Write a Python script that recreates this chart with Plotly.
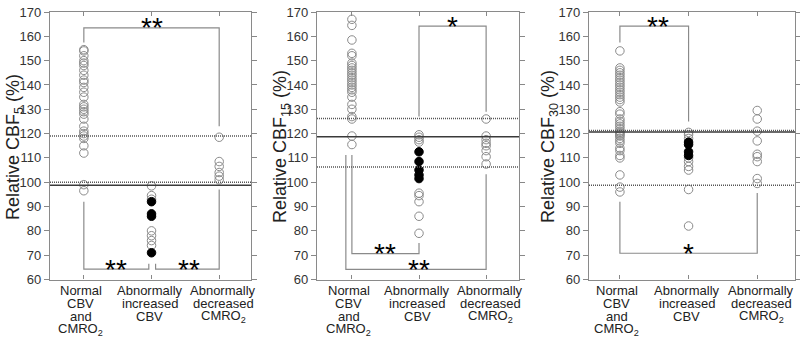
import plotly.graph_objects as go

# ---------------- data ----------------
categories = ["Normal CBV and CMRO2", "Abnormally increased CBV", "Abnormally decreased CMRO2"]
category_lines = [["Normal", "CBV", "and", "CMRO<sub>2</sub>"],
                  ["Abnormally", "increased", "CBV"],
                  ["Abnormally", "decreased", "CMRO<sub>2</sub>"]]
y_ticks = [60, 70, 80, 90, 100, 110, 120, 130, 140, 150, 160, 170]
panel_titles = ["Relative CBF<sub>5</sub> (%)", "Relative CBF<sub>15</sub> (%)", "Relative CBF<sub>30</sub> (%)"]

# CBF5
cbf5_normal = [154.5, 154, 152, 150, 149, 148, 146, 144, 142, 141, 139, 137, 135, 132, 131, 130,
               129, 128, 126, 123, 121, 120, 119, 118, 115, 112, 99, 96.5]
cbf5_inc_open = [98.5, 94.5, 93, 80, 78, 76, 74]
cbf5_inc_filled = [92, 87, 86, 71]
cbf5_dec = [118.5, 108.5, 106.5, 104, 102.5, 101]
cbf5_solid = 98.8
cbf5_dotted = [119, 100]

# CBF15
cbf15_normal = [167, 164.5, 158.5, 153, 152, 149, 148, 147, 146, 145, 144, 143, 142, 141, 140, 139,
                138, 137, 135, 132, 130, 127, 126, 119, 115.5]
cbf15_inc_open = [119.5, 118.5, 117.5, 116.5, 95.5, 94.5, 92, 86, 79]
cbf15_inc_filled = [112.5, 108.5, 105, 103, 101.5]
cbf15_dec = [126, 119, 117.5, 116, 115, 113, 110.5, 107.5]
cbf15_solid = 118.7
cbf15_dotted = [126.2, 106.3]

# CBF30
cbf30_normal = [154, 147, 146, 145, 144, 143, 142, 141, 140, 139, 138, 137, 136, 135, 134, 133,
                129, 128, 126, 125, 124, 123, 122, 121, 120.5, 120, 119.5, 119, 118, 117, 116,
                114, 113, 111, 110, 103, 98, 96]
cbf30_inc_open = [120.5, 119.5, 118, 110, 108.5, 106.5, 105, 97, 82]
cbf30_inc_filled = [116.5, 115.5, 112.5, 111]
cbf30_dec = [129.5, 126, 121, 117, 111.5, 110.5, 108.5, 101.5, 99.5]
cbf30_solid = 120.7
cbf30_dotted = [121.3, 98.8]

# ---------------- layout helpers ----------------
FONT = "Arial, Liberation Sans, sans-serif"
W, H = 800, 343
plot_top, plot_bot = 12, 279.5
x_px = [(50, 251), (317, 519), (589, 795)]
x_ranges = [(-0.5, 2.47), (-0.52, 2.49), (-0.45, 2.55)]
title_x = [14, 281, 549]
label_shift = [-3, -2, 4]

# brackets: list of polylines (x in category units, y in data units), star annotations
brackets = [
    [([0, 0, 2, 2], [157.5, 163.5, 163.5, 123]),
     ([0, 0, 0.96, 0.96], [92, 64.3, 64.3, 66.5]),
     ([1.06, 1.06, 2, 2], [66.5, 64.3, 64.3, 97])],
    [([1, 1, 2, 2], [127, 164.2, 164.2, 129]),
     ([0, 0, 1, 1], [111.2, 70.6, 70.6, 75]),
     ([-0.09, -0.09, 2, 2], [111.2, 64.2, 64.2, 103.3])],
    [([0, 0, 1, 1], [157.5, 164.2, 164.2, 125]),
     ([0, 0, 2, 2], [92, 70.8, 70.8, 95.6])],
]
stars = [
    [(1.0, 163.5, "**"), (0.48, 64.3, "**"), (1.55, 64.3, "**")],
    [(1.5, 164.2, "*"), (0.5, 70.6, "**"), (1.0, 64.2, "**")],
    [(0.55, 164.2, "**"), (1.0, 70.8, "*")],
]

panels = [
    (cbf5_normal, cbf5_inc_open, cbf5_inc_filled, cbf5_dec, cbf5_solid, cbf5_dotted),
    (cbf15_normal, cbf15_inc_open, cbf15_inc_filled, cbf15_dec, cbf15_solid, cbf15_dotted),
    (cbf30_normal, cbf30_inc_open, cbf30_inc_filled, cbf30_dec, cbf30_solid, cbf30_dotted),
]

fig = go.Figure()
shapes = []
annotations = []
ydom = [1 - plot_bot / H, 1 - plot_top / H]

open_marker = dict(symbol="circle", size=8.5, color="rgba(0,0,0,0)",
                   line=dict(color="#8a8a8a", width=1))
filled_marker = dict(symbol="circle", size=8.5, color="black", line=dict(color="black", width=1))

for i, (normal, inc_o, inc_f, dec, solid, dotted) in enumerate(panels):
    sfx = "" if i == 0 else str(i + 1)
    xa, ya = "x" + sfx, "y" + sfx
    # brackets
    for bx, by in brackets[i]:
        fig.add_trace(go.Scatter(x=bx, y=by, mode="lines", xaxis=xa, yaxis=ya,
                                 line=dict(color="#8a8a8a", width=1.2), hoverinfo="skip",
                                 showlegend=False))
    # points
    fig.add_trace(go.Scatter(x=[0] * len(normal), y=normal, mode="markers", xaxis=xa, yaxis=ya,
                             marker=open_marker, showlegend=False))
    fig.add_trace(go.Scatter(x=[1] * len(inc_o), y=inc_o, mode="markers", xaxis=xa, yaxis=ya,
                             marker=open_marker, showlegend=False))
    fig.add_trace(go.Scatter(x=[1] * len(inc_f), y=inc_f, mode="markers", xaxis=xa, yaxis=ya,
                             marker=filled_marker, showlegend=False))
    fig.add_trace(go.Scatter(x=[2] * len(dec), y=dec, mode="markers", xaxis=xa, yaxis=ya,
                             marker=open_marker, showlegend=False))
    # reference lines
    shapes.append(dict(type="line", xref=xa + " domain", yref=ya, x0=0, x1=1, y0=solid, y1=solid,
                       line=dict(color="#3a3a3a", width=1.5)))
    for d in dotted:
        shapes.append(dict(type="line", xref=xa + " domain", yref=ya, x0=0, x1=1, y0=d, y1=d,
                           line=dict(color="#555555", width=1.5, dash="1px,1px")))
    # stars
    for sx, sy, st in stars[i]:
        annotations.append(dict(x=sx, y=sy, xref=xa, yref=ya, text=st, showarrow=False,
                                font=dict(family=FONT, size=28, color="black"),
                                xanchor="center", yanchor="middle", yshift=0))
    # category labels
    for c, lines in enumerate(category_lines):
        for k, ln in enumerate(lines):
            annotations.append(dict(x=c, y=1 - (290.5 + 13 * k) / H, xref=xa, yref="paper",
                                    text=ln, showarrow=False, xanchor="center", yanchor="middle",
                                    xshift=label_shift[c],
                                    font=dict(family=FONT, size=13, color="#222222")))
    # y title
    annotations.append(dict(x=title_x[i] / W, y=1 - 147 / H, xref="paper", yref="paper",
                            text=panel_titles[i], textangle=-90, showarrow=False,
                            xanchor="center", yanchor="middle",
                            font=dict(family=FONT, size=18, color="#222222")))
    xd = [x_px[i][0] / W, x_px[i][1] / W]
    fig.update_layout(**{
        "xaxis" + sfx: dict(domain=xd, range=list(x_ranges[i]), anchor=ya, tickvals=[0, 1, 2],
                            showticklabels=False, ticks="inside", ticklen=4, tickcolor="#888888",
                            showline=True, linecolor="#8a8a8a", linewidth=1.2, mirror="ticks",
                            showgrid=False, zeroline=False, fixedrange=True, automargin=False),
        "yaxis" + sfx: dict(domain=ydom, range=[60, 170], anchor=xa, tickvals=y_ticks,
                            ticks="outside", ticklen=5, tickcolor="#888888",
                            showline=True, linecolor="#8a8a8a", linewidth=1.2, mirror="ticks",
                            showgrid=False, zeroline=False, automargin=False,
                            tickfont=dict(family=FONT, size=13, color="#333333"), fixedrange=True),
    })

fig.update_layout(width=W, height=H, margin=dict(l=0, r=0, t=0, b=0, autoexpand=False),
                  paper_bgcolor="white", plot_bgcolor="white",
                  shapes=shapes, annotations=annotations, showlegend=False)
fig.write_html("out.html", config={"displayModeBar": False},
               post_script="document.body.style.margin='0px';document.body.style.overflow='hidden';")
